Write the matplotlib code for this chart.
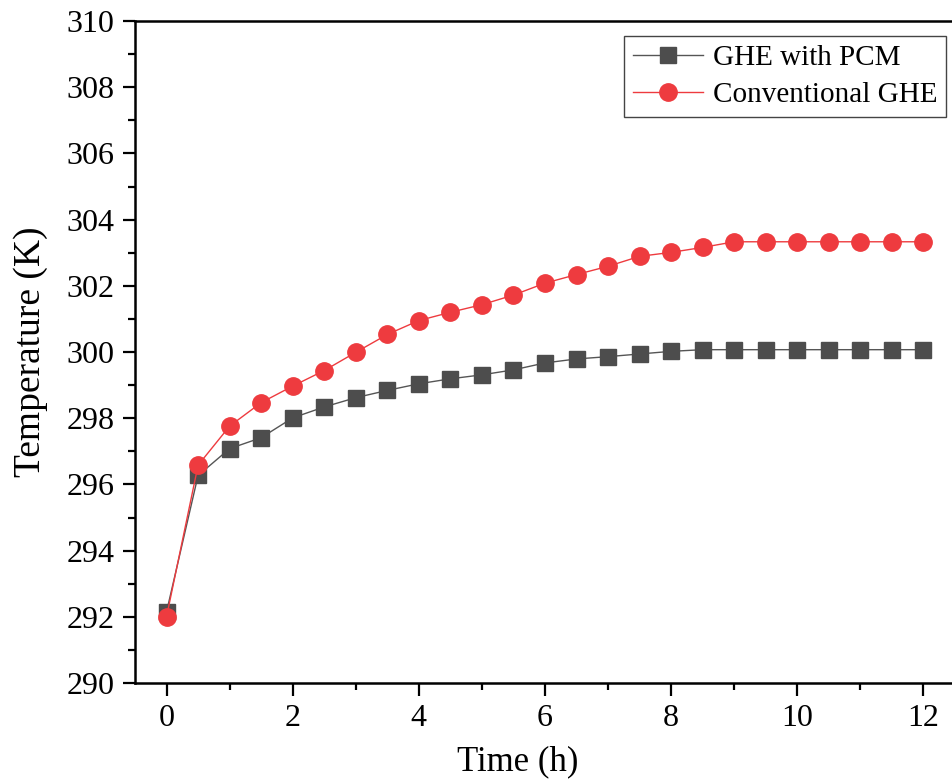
import numpy as np
import matplotlib
matplotlib.use("Agg")
import matplotlib.pyplot as plt
from matplotlib.ticker import MultipleLocator

# データ
time_h = [0, 0.5, 1, 1.5, 2, 2.5, 3, 3.5, 4, 4.5, 5, 5.5, 6, 6.5, 7, 7.5, 8, 8.5,
          9, 9.5, 10, 10.5, 11, 11.5, 12]
ghe_pcm = [292.15, 296.27, 297.08, 297.41, 298.01, 298.34, 298.62, 298.84, 299.04,
           299.19, 299.31, 299.46, 299.67, 299.79, 299.86, 299.94, 300.02, 300.07,
           300.07, 300.07, 300.07, 300.07, 300.07, 300.07, 300.07]
ghe_conv = [292.0, 296.58, 297.76, 298.47, 298.97, 299.44, 299.99, 300.53, 300.95,
            301.20, 301.43, 301.72, 302.08, 302.34, 302.59, 302.89, 303.01, 303.16,
            303.33, 303.33, 303.33, 303.33, 303.33, 303.33, 303.33]
labels = ["GHE with PCM", "Conventional GHE"]

plt.rcParams['font.family'] = ['Liberation Serif', 'DejaVu Serif']

fig = plt.figure(figsize=(9.52, 7.83), dpi=100)
ax = fig.add_axes([135/952, 100/783, 820/952, 662/783])

ax.plot(time_h, ghe_pcm, color='#555555', lw=1.0, marker='s', ms=11,
        mfc='#4d4d4d', mec='#4d4d4d', label=labels[0])
ax.plot(time_h, ghe_conv, color='#ee3b3f', lw=1.0, marker='o', ms=12.5,
        mfc='#ee3b3f', mec='#ee3b3f', label=labels[1])

ax.set_xlim(-0.5, 12.5)
ax.set_ylim(290, 310)
ax.xaxis.set_major_locator(MultipleLocator(2))
ax.xaxis.set_minor_locator(MultipleLocator(1))
ax.yaxis.set_major_locator(MultipleLocator(2))
ax.yaxis.set_minor_locator(MultipleLocator(1))

ax.tick_params(which='major', direction='out', length=9, width=1.6, labelsize=23, pad=6)
ax.tick_params(which='minor', direction='out', length=5, width=1.6)
ax.tick_params(top=False, right=False)
for s in ax.spines.values():
    s.set_linewidth(1.8)

ax.set_xlabel("Time (h)", fontsize=25)
ax.set_ylabel("Temperature (K)", fontsize=27)
# ラベル位置（元図に合わせる）
ax.xaxis.set_label_coords((518-135)/820, -(745-683)/662)
ax.yaxis.set_label_coords(-(135-48)/820, (683-352)/662)

ax.legend(loc='upper right', bbox_to_anchor=(946/952, 1-36/783),
          bbox_transform=fig.transFigure, borderaxespad=0, fontsize=21,
          frameon=True, fancybox=False, edgecolor='#444444', framealpha=1,
          handlelength=2.4, handletextpad=0.35, labelspacing=0.35,
          borderpad=0.3)

fig.savefig("out.png", dpi=100)
